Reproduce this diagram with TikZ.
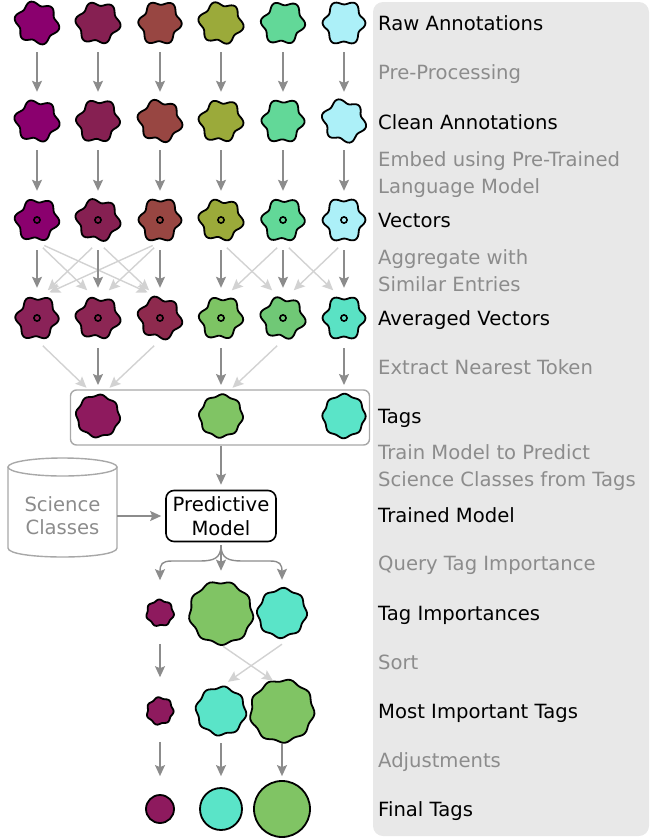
\documentclass[tikz,border=0pt]{standalone}
\usepackage{fontspec}
\setmainfont{DejaVu Sans}
\usetikzlibrary{arrows.meta,calc}
\definecolor{arrdark}{HTML}{8C8C8C}
\definecolor{arrlight}{HTML}{D2D2D2}
\definecolor{boxgray}{HTML}{A8A8A8}
\definecolor{textgray}{HTML}{8C8C8C}
\definecolor{panelgray}{HTML}{E8E8E8}
\definecolor{ca}{HTML}{8A006E}
\definecolor{cb}{HTML}{862052}
\definecolor{cc}{HTML}{984642}
\definecolor{cd}{HTML}{9BAA3A}
\definecolor{ce}{HTML}{62D898}
\definecolor{cf}{HTML}{ACF0F8}
\definecolor{va}{HTML}{8A2258}
\definecolor{vb}{HTML}{8C2654}
\definecolor{vc}{HTML}{8E2A4E}
\definecolor{vd}{HTML}{7DC464}
\definecolor{ve}{HTML}{70C876}
\definecolor{vf}{HTML}{5AE2C4}
\definecolor{tpurple}{HTML}{8E1A5E}
\definecolor{tgreen}{HTML}{80C464}
\definecolor{tteal}{HTML}{5AE4C8}
\tikzset{
  blobline/.style={draw=black,line width=1.8,line join=round},
  arrd/.style={draw=arrdark,line width=1.4,-{Stealth[length=11pt,width=10pt,inset=2pt]}},
  arrl/.style={draw=arrlight,line width=1.4,-{Stealth[length=11pt,width=10pt,inset=2pt]}},
  lab/.style={anchor=base west,inner sep=0pt,align=left,font=\fontsize{19.6}{27}\selectfont,text=black},
  slab/.style={lab,text=textgray},
  dotring/.style={draw=black,line width=1.6},
}
\newcommand\wblob[8]{%
  \node[circle,inner sep=0pt,outer sep=0pt,minimum size={2*(#4+#5)}] (#1) at (#2,#3) {};
  \filldraw[blobline,fill=#8,shift={(#2,#3)}] plot[smooth cycle,samples=72,domain=0:355]
    ({(#4+#5*sin(#6*\x+#7)+0.35*#5*sin(2*\x+3*#7))*cos(\x)},{(#4+#5*sin(#6*\x+#7)+0.35*#5*sin(2*\x+3*#7))*sin(\x)});
}
\begin{document}
\begin{tikzpicture}[x=1pt,y=-1pt]
\useasboundingbox (0,0) rectangle (650,839);
\fill[panelgray,rounded corners=10] (373,2) rectangle (649,836);

% labels (multi-line nodes: base = last line)
\node[lab] (l1) at (378,30) {Raw Annotations};
\node[slab] (l2) at (378,79) {Pre-Processing};
\node[lab] (l3) at (378,129) {Clean Annotations};
\node[slab] (l4) at (378,193) {Embed using Pre-Trained\\Language Model};
\node[lab] (l5) at (378,227) {Vectors};
\node[slab] (l6) at (378,291) {Aggregate with\\Similar Entries};
\node[lab] (l7) at (378,325) {Averaged Vectors};
\node[slab] (l8) at (378,374) {Extract Nearest Token};
\node[lab] (l9) at (378,423) {Tags};
\node[slab] (l10) at (378,486) {Train Model to Predict\\Science Classes from Tags};
\node[lab] (l11) at (378,522) {Trained Model};
\node[slab] (l12) at (378,570) {Query Tag Importance};
\node[lab] (l13) at (378,620) {Tag Importances};
\node[slab] (l14) at (378,669) {Sort};
\node[lab] (l15) at (378,718) {Most Important Tags};
\node[slab] (l16) at (378,767) {Adjustments};
\node[lab] (l17) at (378,816) {Final Tags};

% row 1 raw
\wblob{r1}{37}{23}{20}{2.2}{6}{10}{ca}
\wblob{r2}{98}{23}{20}{2.2}{6}{40}{cb}
\wblob{r3}{160}{23}{20}{2.2}{6}{70}{cc}
\wblob{r4}{221}{23}{20}{2.2}{6}{25}{cd}
\wblob{r5}{283}{23}{20}{2.2}{6}{55}{ce}
\wblob{r6}{344}{23}{20}{2.2}{6}{85}{cf}
% row 2 clean
\wblob{c1}{37}{121}{20}{2.2}{6}{30}{ca}
\wblob{c2}{98}{121}{20}{2.2}{6}{60}{cb}
\wblob{c3}{160}{121}{20}{2.2}{6}{15}{cc}
\wblob{c4}{221}{121}{20}{2.2}{6}{45}{cd}
\wblob{c5}{283}{121}{20}{2.2}{6}{75}{ce}
\wblob{c6}{344}{121}{20}{2.2}{6}{5}{cf}
% row 3 vectors
\wblob{v1}{37}{220}{20}{2.2}{6}{50}{ca}
\wblob{v2}{98}{220}{20}{2.2}{6}{20}{cb}
\wblob{v3}{160}{220}{20}{2.2}{6}{80}{cc}
\wblob{v4}{221}{220}{20}{2.2}{6}{35}{cd}
\wblob{v5}{283}{220}{20}{2.2}{6}{65}{ce}
\wblob{v6}{344}{220}{20}{2.2}{6}{95}{cf}
\foreach \n in {v1,v2,v3,v4,v5,v6}{\draw[dotring] (\n) circle[radius=3.1];}
% row 4 averaged
\wblob{w1}{37}{318}{20}{2.2}{6}{70}{va}
\wblob{w2}{98}{318}{20}{2.2}{6}{40}{vb}
\wblob{w3}{160}{318}{20}{2.2}{6}{10}{vc}
\wblob{w4}{221}{318}{20}{2.2}{6}{55}{vd}
\wblob{w5}{283}{318}{20}{2.2}{6}{25}{ve}
\wblob{w6}{344}{318}{20}{2.2}{6}{85}{vf}
\foreach \n in {w1,w2,w3,w4,w5,w6}{\draw[dotring] (\n) circle[radius=3.1];}

% arrows rows 1-2, 2-3
\foreach \i in {1,...,6}{
  \draw[arrd,shorten <=7pt,shorten >=7pt] (r\i.south) -- (c\i.north);
  \draw[arrd,shorten <=7pt,shorten >=7pt] (c\i.south) -- (v\i.north);
}
% aggregate arrows
\draw[arrl,shorten <=8pt,shorten >=8pt] (v1.south) -- ($(w2.north)+(-5,0)$);
\draw[arrl,shorten <=8pt,shorten >=8pt] (v1.south) -- ($(w3.north)+(-5,0)$);
\draw[arrl,shorten <=8pt,shorten >=8pt] (v2.south) -- ($(w1.north)+(5,0)$);
\draw[arrl,shorten <=8pt,shorten >=8pt] (v2.south) -- ($(w3.north)+(-5,0)$);
\draw[arrl,shorten <=8pt,shorten >=8pt] (v3.south) -- ($(w1.north)+(5,0)$);
\draw[arrl,shorten <=8pt,shorten >=8pt] (v3.south) -- ($(w2.north)+(5,0)$);
\draw[arrl,shorten <=8pt,shorten >=8pt] (v4.south) -- ($(w5.north)+(-5,0)$);
\draw[arrl,shorten <=8pt,shorten >=8pt] (v5.south) -- ($(w4.north)+(5,0)$);
\draw[arrl,shorten <=8pt,shorten >=8pt] (v5.south) -- ($(w6.north)+(-5,0)$);
\draw[arrl,shorten <=8pt,shorten >=8pt] (v6.south) -- ($(w5.north)+(5,0)$);
\foreach \i in {1,...,6}{
  \draw[arrd,shorten <=8pt,shorten >=8pt] (v\i.south) -- (w\i.north);
}

% tags box and tags
\node[draw=boxgray,line width=1.4,rounded corners=6,minimum width=299,minimum height=55,inner sep=0pt] (tagbox) at (220,417.5) {};
\wblob{t1}{98}{416}{21}{1}{8}{20}{tpurple}
\wblob{t2}{221}{416}{21}{1}{8}{50}{tgreen}
\wblob{t3}{344}{416}{21}{1}{8}{80}{tteal}

% extract arrows
\draw[arrl,shorten <=8pt,shorten >=9pt] (w1.south) -- ($(t1.north)+(-5,0)$);
\draw[arrl,shorten <=8pt,shorten >=9pt] (w3.south) -- ($(t1.north)+(5,0)$);
\draw[arrl,shorten <=8pt,shorten >=9pt] (w5.south) -- ($(t2.north)+(5,0)$);
\draw[arrd,shorten <=8pt,shorten >=9pt] (w2.south) -- (t1.north);
\draw[arrd,shorten <=8pt,shorten >=9pt] (w4.south) -- (t2.north);
\draw[arrd,shorten <=8pt,shorten >=9pt] (w6.south) -- (t3.north);

% predictive model and science classes
\node[draw=black,line width=1.6,rounded corners=8,minimum width=110,minimum height=51,inner sep=0pt,align=center,font=\fontsize{19.6}{24}\selectfont] (pm) at (221,516) {Predictive\\Model};
\node[inner sep=0pt,minimum width=109,minimum height=80,align=center,text=textgray,font=\fontsize{19.6}{23}\selectfont] (sc) at (62.5,516) {Science\\Classes};
\draw[boxgray,line width=1.4] (8,467) -- (8,548) .. controls (8,560) and (117,560) .. (117,548) -- (117,467);
\draw[boxgray,line width=1.4] (62.5,467) ellipse[x radius=54.5,y radius=9];
\draw[arrd,shorten >=4pt] (sc.east) -- (pm.west);
\draw[arrd,shorten >=5pt] (tagbox.south -| pm.north) -- (pm.north);

% tag importances
\wblob{ti1}{160}{613}{13}{0.8}{7}{30}{tpurple}
\wblob{ti2}{221}{613}{31}{1.3}{9}{10}{tgreen}
\wblob{ti3}{282}{613}{24}{1.2}{8}{60}{tteal}

\draw[arrd,shorten <=3pt] (pm.south) .. controls (221,558) and (214,561) .. (200,561) -- (172,561) .. controls (162,561) and (160,564) .. (160,572) -- ($(ti1.north)+(0,-19)$);
\draw[arrd,shorten <=3pt] (pm.south) .. controls (221,558) and (228,561) .. (242,561) -- (270,561) .. controls (280,561) and (282,564) .. (282,572) -- ($(ti3.north)+(0,-8)$);
\draw[arrd,shorten <=3pt,shorten >=10pt] (pm.south) -- (ti2.north);

% most important tags
\wblob{mi1}{160}{711}{13}{0.8}{7}{70}{tpurple}
\wblob{mi2}{221}{711}{24}{1.2}{8}{20}{tteal}
\wblob{mi3}{282}{711}{31}{1.3}{9}{45}{tgreen}

\draw[arrd,shorten <=17pt,shorten >=20pt] (ti1.south) -- (mi1.north);
\draw[arrl] ($(ti2.south)+(2,1)$) -- ($(mi3.north)+(-9,2)$);
\draw[arrl] ($(ti3.south)+(0,6)$) -- ($(mi2.north)+(7,-4)$);

% final tags
\node[circle,draw=black,line width=1.8,fill=tpurple,minimum size=28,inner sep=0pt] (f1) at (160,809) {};
\node[circle,draw=black,line width=1.8,fill=tteal,minimum size=42,inner sep=0pt] (f2) at (221,809) {};
\node[circle,draw=black,line width=1.8,fill=tgreen,minimum size=56,inner sep=0pt] (f3) at (282,809) {};

\draw[arrd,shorten <=17pt,shorten >=18pt] (mi1.south) -- (f1.north);
\draw[arrd,shorten <=7pt,shorten >=11pt] (mi2.south) -- (f2.north);
\draw[arrd,shorten <=1pt,shorten >=4pt] (mi3.south) -- (f3.north);
\end{tikzpicture}
\end{document}
